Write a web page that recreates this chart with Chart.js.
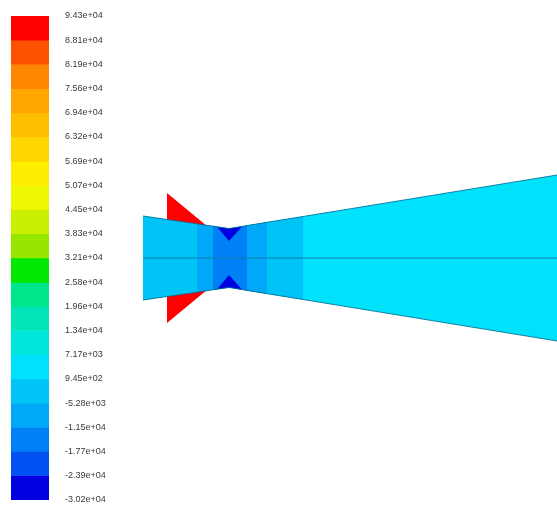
<!DOCTYPE html>
<html>
<head>
<meta charset="utf-8">
<script src="https://cdn.jsdelivr.net/npm/chart.js@4"></script>
<style>
  html, body { margin: 0; padding: 0; background: #fff; }
  #wrap { position: relative; width: 557px; height: 506px; overflow: hidden; }
  #legend { position: absolute; left: 0; top: 0; }
  #field { position: absolute; left: 130px; top: 0; }
</style>
</head>
<body>
<div id="wrap">
  <canvas id="legend" width="130" height="506"></canvas>
  <canvas id="field" width="427" height="506"></canvas>
</div>
<script>
// Contour levels (static pressure, Pa), highest first, with their printed labels
const levels = [94300, 88100, 81900, 75600, 69400, 63200, 56900, 50700, 44500, 38300,
                32100, 25800, 19600, 13400, 7170, 945, -5280, -11500, -17700, -23900, -30200];
const levelLabels = ['9.43e+04', '8.81e+04', '8.19e+04', '7.56e+04', '6.94e+04', '6.32e+04',
                     '5.69e+04', '5.07e+04', '4.45e+04', '3.83e+04', '3.21e+04', '2.58e+04',
                     '1.96e+04', '1.34e+04', '7.17e+03', '9.45e+02', '-5.28e+03', '-1.15e+04',
                     '-1.77e+04', '-2.39e+04', '-3.02e+04'];
// One colour per band between consecutive levels (top band first)
const bandColors = ['#ff0000', '#ff5200', '#ff8600', '#ffa600', '#ffbf00', '#ffd600',
                    '#ffee00', '#eef800', '#c8f000', '#96e600', '#00e800', '#00e68c',
                    '#00e6b8', '#00e6dc', '#00e2fc', '#00c4f6', '#00a8f8', '#0080f6',
                    '#0050f2', '#0000e0'];

// Nozzle wall profile: axial station and wall half-height (same units)
const wallX = [0, 24, 54, 63, 70, 74, 86, 99, 104, 124, 160, 414];
const wallR = [42, 38.5, 34.2, 32.8, 31.8, 31.2, 29.5, 31.6, 32.4, 35.7, 41.5, 83];

// Pressure zones inside the nozzle (axial extent and representative value)
const zoneFrom = [0, 0, 54, 70];
const zoneTo   = [414, 160, 124, 104];
const zoneP    = [4000, -2000, -8000, -14000];

// Low-pressure pockets at the throat wall
const notchX = [74, 86, 99];
const notchDepth = [31.2, 17, 31.6];
const notchP = -27000;

// High-pressure lobes outside the converging wall
const lobeX = [24, 63];
const lobeOuter = [65, 32.8];
const lobeP = 91000;

function colorFor(p) {
  for (let i = 0; i < bandColors.length; i++) {
    if (p <= levels[i] && p >= levels[i + 1]) return bandColors[i];
  }
  return '#ffffff';
}
function wallAt(x) { return wallR[wallX.indexOf(x)]; }

const datasets = [];
let drawOrder = 100;
const noLine = { borderWidth: 0, borderColor: 'rgba(0,0,0,0)', pointRadius: 0, tension: 0 };

function addRegion(upper, lower, color) {
  drawOrder -= 1;
  datasets.push(Object.assign({ data: upper, fill: '+1', backgroundColor: color, order: drawOrder }, noLine));
  datasets.push(Object.assign({ data: lower, fill: false, order: drawOrder }, noLine));
}

// Nested zones, widest first
zoneP.forEach((p, k) => {
  const xs = wallX.filter(x => x >= zoneFrom[k] && x <= zoneTo[k]);
  addRegion(xs.map(x => ({ x, y: wallAt(x) })), xs.map(x => ({ x, y: -wallAt(x) })), colorFor(p));
});

// Throat pockets (upper and lower)
addRegion(notchX.map(x => ({ x, y: wallAt(x) })), notchX.map((x, i) => ({ x, y: notchDepth[i] })), colorFor(notchP));
addRegion(notchX.map((x, i) => ({ x, y: -notchDepth[i] })), notchX.map(x => ({ x, y: -wallAt(x) })), colorFor(notchP));

// Lobes (upper and lower)
addRegion(lobeX.map((x, i) => ({ x, y: lobeOuter[i] })), lobeX.map(x => ({ x, y: wallAt(x) })), colorFor(lobeP));
addRegion(lobeX.map(x => ({ x, y: -wallAt(x) })), lobeX.map((x, i) => ({ x, y: -lobeOuter[i] })), colorFor(lobeP));

// Wall outlines and axis
const edge = { fill: false, pointRadius: 0, tension: 0, order: 0 };
datasets.push(Object.assign({ data: wallX.map(x => ({ x, y: wallAt(x) })), borderColor: 'rgba(0,110,150,0.85)', borderWidth: 1 }, edge));
datasets.push(Object.assign({ data: wallX.map(x => ({ x, y: -wallAt(x) })), borderColor: 'rgba(0,110,150,0.85)', borderWidth: 1 }, edge));
datasets.push(Object.assign({ data: [{ x: wallX[0], y: 0 }, { x: wallX[wallX.length - 1], y: 0 }], borderColor: '#0a7fae', borderWidth: 1.2 }, edge));

new Chart(document.getElementById('field'), {
  type: 'line',
  data: { datasets },
  options: {
    responsive: false,
    animation: false,
    events: [],
    layout: { padding: 0 },
    plugins: { legend: { display: false }, tooltip: { enabled: false } },
    scales: {
      x: { type: 'linear', min: -13, max: 414, display: false },
      y: { type: 'linear', min: -248, max: 258, display: false }
    }
  }
});

// Colour bar
new Chart(document.getElementById('legend'), {
  type: 'bar',
  data: {
    labels: [''],
    datasets: bandColors.map((c, i) => ({
      data: [[levels[i + 1], levels[i]]],
      backgroundColor: c,
      borderWidth: 0,
      grouped: false,
      categoryPercentage: 1,
      barPercentage: 1
    }))
  },
  options: {
    responsive: false,
    animation: false,
    events: [],
    layout: { padding: { left: 11, top: 16, bottom: 6, right: 0 } },
    plugins: { legend: { display: false }, tooltip: { enabled: false } },
    scales: {
      x: { display: false },
      y: {
        position: 'right',
        min: levels[levels.length - 1],
        max: levels[0],
        grid: { display: true, drawOnChartArea: false, drawTicks: true, tickLength: 16, tickColor: 'rgba(0,0,0,0)' },
        border: { display: false },
        afterFit: s => { s.width = 81; },
        afterBuildTicks: s => { s.ticks = levels.map(v => ({ value: v })); },
        ticks: {
          autoSkip: false,
          padding: 0,
          color: '#3a3a3a',
          font: { family: 'Liberation Sans', size: 9 },
          callback: (v) => levelLabels[levels.indexOf(v)]
        }
      }
    }
  }
});
</script>
</body>
</html>
